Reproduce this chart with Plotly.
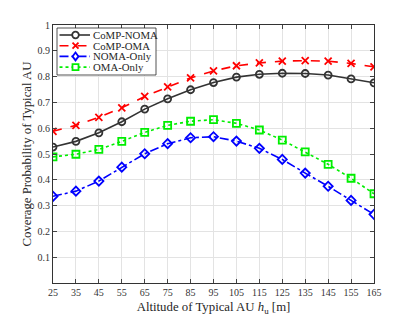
import plotly.graph_objects as go

# altitude of typical AU (m)
altitude = [25, 35, 45, 55, 65, 75, 85, 95, 105, 115, 125, 135, 145, 155, 165]

comp_noma = [0.527, 0.549, 0.582, 0.625, 0.674, 0.714, 0.749, 0.777, 0.798, 0.809, 0.813, 0.812, 0.806, 0.791, 0.776]
comp_oma = [0.588, 0.611, 0.642, 0.679, 0.723, 0.760, 0.795, 0.822, 0.842, 0.853, 0.860, 0.862, 0.860, 0.851, 0.838]
noma_only = [0.336, 0.356, 0.395, 0.449, 0.501, 0.540, 0.563, 0.567, 0.550, 0.522, 0.479, 0.426, 0.375, 0.320, 0.266]
oma_only = [0.489, 0.499, 0.518, 0.549, 0.584, 0.611, 0.627, 0.633, 0.619, 0.593, 0.554, 0.508, 0.460, 0.406, 0.346]

x_ticks = altitude
y_ticks = [0.1, 0.2, 0.3, 0.4, 0.5, 0.6, 0.7, 0.8, 0.9, 1]

series = [
    ("CoMP-NOMA", comp_noma, "#333333", "solid", "circle-open"),
    ("CoMP-OMA", comp_oma, "#ff0000", "dash", "x-thin-open"),
    ("NOMA-Only", noma_only, "#0000ff", "dashdot", "diamond-open"),
    ("OMA-Only", oma_only, "#00ee00", "dot", "square-open"),
]

# page body has an 8px margin, so the figure is a bit smaller than the window
OFF = 8
W, H = 413 - OFF, 322 - OFF
L, R, T, B = 53 - OFF, 39, 25 - OFF, 39
pw, ph = W - L - R, H - T - B


def to_paper(xp, yp):
    # window pixel position -> paper coords of the plot area
    return (xp - OFF - L) / pw, (H - B - (yp - OFF)) / ph


fig = go.Figure()
for name, vals, color, dash, symbol in series:
    fig.add_trace(go.Scatter(
        x=altitude, y=vals, name=name, mode="lines+markers",
        line=dict(color=color, width=1.6, dash=dash),
        marker=dict(symbol=symbol, size=7, color=color,
                    line=dict(color=color, width=1.8)),
        showlegend=False,
    ))

# hand-drawn legend (matlab style, compact)
shapes = []
annotations = []
bx0, by0 = to_paper(57, 28)
bx1, by1 = to_paper(156, 75)
shapes.append(dict(type="rect", xref="paper", yref="paper", x0=bx0, x1=bx1,
                   y0=by1, y1=by0, fillcolor="white",
                   line=dict(color="#262626", width=0.8), layer="above"))

marker_paths = {
    "x-thin-open": "M-3,-3 L3,3 M-3,3 L3,-3",
    "diamond-open": "M0,-4 L3,0 L0,4 L-3,0 Z",
    "square-open": "M-3,-3 L3,-3 L3,3 L-3,3 Z",
}
row_y = [35, 45.7, 56.4, 67.1]
for (name, vals, color, dash, symbol), yp in zip(series, row_y):
    lx0, ly = to_paper(59.5, yp)
    lx1, _ = to_paper(90, yp)
    mx, _ = to_paper(75.5, yp)
    shapes.append(dict(type="line", xref="paper", yref="paper",
                       x0=lx0, x1=lx1, y0=ly, y1=ly, layer="above",
                       line=dict(color=color, width=1.6, dash=dash)))
    if symbol == "circle-open":
        shapes.append(dict(type="circle", xref="paper", yref="paper",
                           xsizemode="pixel", ysizemode="pixel",
                           xanchor=mx, yanchor=ly, x0=-3.3, x1=3.3, y0=-3.3, y1=3.3,
                           fillcolor="white", layer="above",
                           line=dict(color=color, width=1.8)))
    else:
        shapes.append(dict(type="path", xref="paper", yref="paper",
                           xsizemode="pixel", ysizemode="pixel",
                           xanchor=mx, yanchor=ly, path=marker_paths[symbol],
                           fillcolor="white" if symbol != "x-thin-open" else None,
                           layer="above", line=dict(color=color, width=1.8)))
    tx, _ = to_paper(92, yp)
    annotations.append(dict(text=name, xref="paper", yref="paper", x=tx, y=ly,
                            xanchor="left", yanchor="middle", showarrow=False,
                            borderpad=0,
                            font=dict(family="Liberation Serif", size=10.8, color="#262626")))

axis_font = dict(family="Liberation Serif", size=10, color="#333333")

fig.update_xaxes(
    range=[25, 165], tickvals=x_ticks, ticks="inside", ticklen=4,
    showgrid=True, gridcolor="#e3e3e3", gridwidth=1,
    showline=True, linecolor="#333333", linewidth=1, mirror="ticks",
    zeroline=False, tickfont=axis_font, automargin=False,
    title=dict(text="Altitude of Typical AU <i>h</i><sub>u</sub> [m]",
               font=dict(family="Liberation Serif", size=12.8, color="#262626"),
               standoff=5),
)
fig.update_yaxes(
    range=[0, 1], tickvals=y_ticks, ticks="inside", ticklen=4,
    showgrid=True, gridcolor="#e3e3e3", gridwidth=1,
    showline=True, linecolor="#333333", linewidth=1, mirror="ticks",
    zeroline=False, tickfont=axis_font, automargin=False,
    title=dict(text="Coverage Probability of Typical AU",
               font=dict(family="Liberation Serif", size=12.8, color="#262626"),
               standoff=3),
)

fig.update_layout(
    width=W, height=H,
    margin=dict(l=L, r=R, t=T, b=B),
    paper_bgcolor="white", plot_bgcolor="white",
    showlegend=False,
    shapes=shapes, annotations=annotations,
)

fig.write_html("out.html")
